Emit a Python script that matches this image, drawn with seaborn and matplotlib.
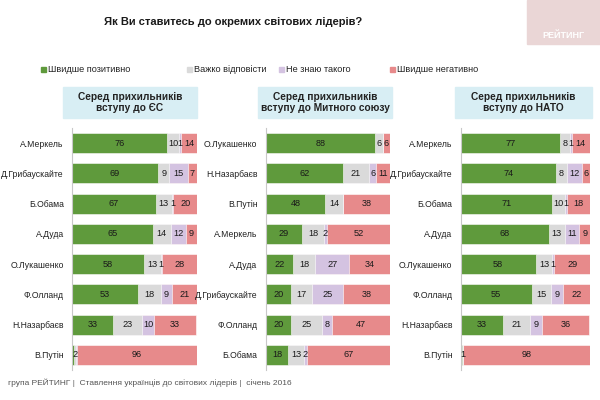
import pandas as pd
import matplotlib.pyplot as plt
import seaborn as sns
from matplotlib.patches import Rectangle

# data
answers = ['Швидше позитивно', 'Важко відповісти', 'Не знаю такого', 'Швидше негативно']
colors = ['#5f9a3c', '#dadada', '#d4c3e1', '#e78a8b']

eu_names = ['А.Меркель', 'Д.Грибаускайте', 'Б.Обама', 'А.Дуда',
            'О.Лукашенко', 'Ф.Олланд', 'Н.Назарбаєв', 'В.Путін']
eu_pos = [76, 69, 67, 65, 58, 53, 33, 2]
eu_hard = [10, 9, 13, 14, 13, 18, 23, 1]
eu_dk = [1, 15, 1, 12, 1, 9, 10, 1]
eu_neg = [14, 7, 20, 9, 28, 21, 33, 96]

cu_names = ['О.Лукашенко', 'Н.Назарбаєв', 'В.Путін', 'А.Меркель',
            'А.Дуда', 'Д.Грибаускайте', 'Ф.Олланд', 'Б.Обама']
cu_pos = [88, 62, 48, 29, 22, 20, 20, 18]
cu_hard = [6, 21, 14, 18, 18, 17, 25, 13]
cu_dk = [0, 6, 0, 2, 27, 25, 8, 2]
cu_neg = [6, 11, 38, 52, 34, 38, 47, 67]

nato_names = ['А.Меркель', 'Д.Грибаускайте', 'Б.Обама', 'А.Дуда',
              'О.Лукашенко', 'Ф.Олланд', 'Н.Назарбаєв', 'В.Путін']
nato_pos = [77, 74, 71, 68, 58, 55, 33, 1]
nato_hard = [8, 8, 10, 13, 13, 15, 21, 1]
nato_dk = [1, 12, 1, 11, 1, 9, 9, 0]
nato_neg = [14, 6, 18, 9, 29, 22, 36, 98]

titles = ['Серед прихильників\nвступу до ЄС',
          'Серед прихильників\nвступу до Митного союзу',
          'Серед прихильників\nвступу до НАТО']

panels = [(eu_names, eu_pos, eu_hard, eu_dk, eu_neg),
          (cu_names, cu_pos, cu_hard, cu_dk, cu_neg),
          (nato_names, nato_pos, nato_hard, nato_dk, nato_neg)]

sns.set_style('white')
plt.rcParams['font.family'] = ['Liberation Sans', 'DejaVu Sans']

fig = plt.figure(figsize=(6, 4), dpi=100)

ax_boxes = [(0.12, 0.075, 0.208, 0.605),
            (0.443, 0.075, 0.207, 0.605),
            (0.768, 0.075, 0.215, 0.605)]
head_boxes = [(63, 197), (258, 392), (455, 592)]

for (names, pos, hard, dk, neg), rect, title, (hx0, hx1) in zip(panels, ax_boxes, titles, head_boxes):
    ax = fig.add_axes(rect)
    df = pd.DataFrame({'name': names, 'pos': pos, 'hard': hard, 'dk': dk, 'neg': neg})
    cols = ['pos', 'hard', 'dk', 'neg']
    # stacked bars: draw cumulative totals from largest to smallest
    for i in range(3, -1, -1):
        df['cum'] = df[cols[:i + 1]].sum(axis=1)
        sns.barplot(data=df, x='cum', y='name', color=colors[i], orient='h',
                    width=0.66, saturation=1, ax=ax, edgecolor='white', linewidth=0.4)
    # value labels (tiny Putin slivers are left unlabeled, as in the original)
    for j, row in df.iterrows():
        left = 0
        for c in cols:
            v = row[c]
            skip = row['name'] == 'В.Путін' and c in ('hard', 'dk') and v <= 1
            if v > 0 and not skip:
                shift = 1.5 if (c == 'pos' and v < 3) else 0
                ax.text(left + v / 2 + shift, j, str(v),
                        ha='center', va='center', fontsize=6.6, color='#1a1a1a')
            left += v
    ax.set_xlim(0, 100)
    ax.set_ylim(7.5, -0.5)
    ax.set_xlabel('')
    ax.set_ylabel('')
    ax.set_xticks([])
    ax.tick_params(axis='y', length=0, labelsize=6.2, pad=6, labelcolor='#222222')
    ax.set_yticks([k + 0.5 for k in range(-1, 8)], minor=True)
    ax.tick_params(axis='y', which='minor', length=3, color='#b0b0b0')
    for s in ['top', 'right', 'bottom']:
        ax.spines[s].set_visible(False)
    ax.spines['left'].set_color('#c8c8c8')
    ax.spines['left'].set_linewidth(0.8)
    # panel header
    fig.patches.append(Rectangle((hx0 / 600, 1 - 118 / 400), (hx1 - hx0) / 600, 31 / 400,
                                 transform=fig.transFigure, color='#d8eef4', zorder=0))
    fig.text((hx0 + hx1) / 2 / 600, 1 - 102.5 / 400, title, ha='center', va='center',
             fontsize=7.3, fontweight='bold', color='#222222', linespacing=1.2)

# title
fig.text(233 / 600, 1 - 22 / 400, 'Як Ви ставитесь до окремих світових лідерів?',
         ha='center', va='center', fontsize=8, fontweight='bold', color='#1a1a1a')

# legend
leg_x = [46, 192, 284, 395]
for x, lab, c in zip(leg_x, answers, colors):
    fig.patches.append(Rectangle(((x - 5) / 600, 1 - 72 / 400), 5 / 600, 5 / 400,
                                 transform=fig.transFigure, color=c))
    fig.text((x + 2) / 600, 1 - 69.5 / 400, lab, ha='left', va='center',
             fontsize=6.6, color='#222222')

# logo
fig.patches.append(Rectangle((527 / 600, 1 - 44 / 400), 73 / 600, 44 / 400,
                             transform=fig.transFigure, color='#ead6d6', zorder=0))
fig.text(563 / 600, 1 - 36 / 400, 'РЕЙТИНГ', ha='center', va='center',
         fontsize=6.5, fontweight='bold', color='white')

# footer
fig.text(8 / 600, 1 - 383 / 400,
         'група РЕЙТИНГ |  Ставлення українців до світових лідерів |  січень 2016',
         ha='left', va='center', fontsize=6, color='#555555')

fig.savefig('out.png', dpi=100)
